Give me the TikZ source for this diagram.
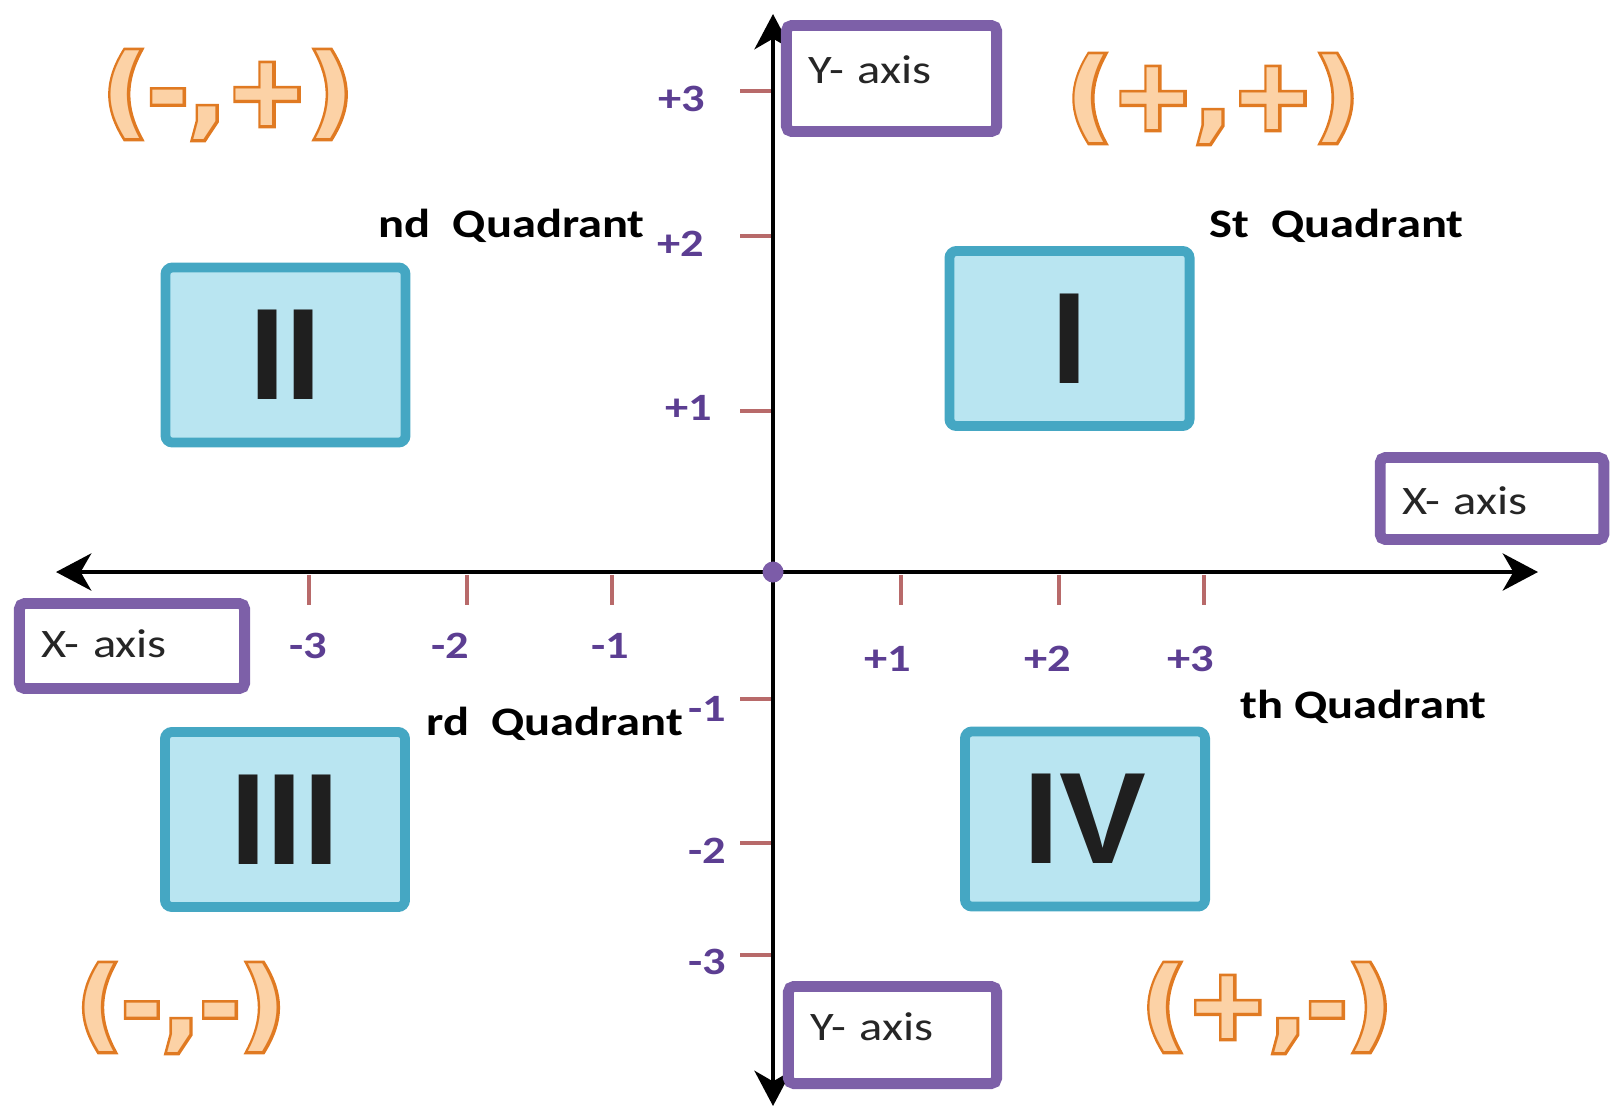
\documentclass[tikz,border=0pt]{standalone}
\usepackage{fontspec}
\setmainfont{Carlito}[FakeStretch=1.2]
\newfontfamily\romanfont{Liberation Sans}
\newfontfamily\signfont{DejaVu Sans Bold}
\newfontfamily\signedge{DejaVu Sans Bold}[FakeBold=6]
\usepackage{xcolor}
\usepackage{tikz}
\usetikzlibrary{arrows.meta,positioning}

\definecolor{axPurple}{HTML}{7D60A8}
\definecolor{numPurple}{HTML}{5C3E92}
\definecolor{dotPurple}{HTML}{7C5CA8}
\definecolor{tickRed}{HTML}{B86A6A}
\definecolor{quadTeal}{HTML}{45A7C3}
\definecolor{quadFill}{HTML}{B9E5F1}
\definecolor{signOrange}{HTML}{E07A22}
\definecolor{signPale}{HTML}{FCD2A6}

% orange outlined sign text
\newcommand{\hollow}[1]{\rlap{\signedge\color{signOrange}#1}{\signfont\color{signPale}#1}}

\begin{document}
\begin{tikzpicture}[
  x=0.01cm,y=-0.01cm,
  axbox/.style={draw=axPurple,line width=3.1pt,fill=white,rounded corners=1.5pt,inner xsep=0.22cm,inner ysep=0pt,align=left,text=black!85,font=\fontsize{11.5}{13}\selectfont},
  quad/.style={draw=quadTeal,line width=2.8pt,fill=quadFill,rounded corners=2pt,minimum width=2.40cm,minimum height=1.75cm,text=black!88,font=\romanfont\bfseries\fontsize{37}{40}\selectfont},
  qlabel/.style={anchor=west,inner sep=0pt,font=\bfseries\fontsize{11.5}{13}\selectfont},
  tlabel/.style={inner sep=0pt,text=numPurple,font=\bfseries\fontsize{11}{12}\selectfont},
  ticmark/.style={draw=tickRed,line width=1.4pt},
  sign/.style={inner sep=0pt,font=\fontsize{28}{30}\selectfont},
  axline/.style={line width=1.4pt,arrows={Stealth[length=10pt,width=10.5pt,inset=3pt]-Stealth[length=10pt,width=10.5pt,inset=3pt]}},
]
\useasboundingbox (0,0) rectangle (1612,1111);

% axes
\coordinate (xl) at (56,572);
\coordinate (xr) at (1538,572);
\coordinate (yt) at (773,14);
\coordinate (yb) at (773,1106);
\draw[axline] (xl) -- (xr);
\draw[axline] (yb) -- (yt);

% ticks
\draw[ticmark] (740,91) -- (771,91);
\draw[ticmark] (740,236) -- (771,236);
\draw[ticmark] (740,411) -- (771,411);
\draw[ticmark] (740,699) -- (771,699);
\draw[ticmark] (740,843) -- (771,843);
\draw[ticmark] (740,955) -- (771,955);
\draw[ticmark] (309,575) -- (309,605);
\draw[ticmark] (467,575) -- (467,605);
\draw[ticmark] (612,575) -- (612,605);
\draw[ticmark] (901,575) -- (901,605);
\draw[ticmark] (1059,575) -- (1059,605);
\draw[ticmark] (1204,575) -- (1204,605);

\node[circle,fill=dotPurple,inner sep=0pt,minimum size=0.21cm] (origin) at (773,572) {};

% tick labels
\node[tlabel] (yp3) at (682,99) {+3};
\node[tlabel] (yp2) at (681,244) {+2};
\node[tlabel] (yp1) at (689,408) {+1};
\node[tlabel] (ym1) at (707,709) {-1};
\node[tlabel] (ym2) at (707,851) {-2};
\node[tlabel] (ym3) at (707,962) {-3};
\node[tlabel] (xm3) at (308,646) {-3};
\node[tlabel] (xm2) at (450,646) {-2};
\node[tlabel] (xm1) at (610,646) {-1};
\node[tlabel] (xp1) at (888,659) {+1};
\node[tlabel] (xp2) at (1048,659) {+2};
\node[tlabel] (xp3) at (1191,659) {+3};

% axis name boxes
\node[axbox,text width=1.66cm,text height=0.575cm,text depth=0.485cm] (ytop) at (891.5,78.5) {Y- axis};
\node[axbox,text width=1.64cm,text height=0.535cm,text depth=0.435cm] (ybot) at (892.5,1035) {Y- axis};
\node[axbox,text width=1.795cm,text height=0.565cm,text depth=0.255cm] (xright) at (1492,498.5) {X- axis};
\node[axbox,text width=1.81cm,text height=0.535cm,text depth=0.315cm] (xleft) at (132,646) {X- axis};

% quadrants
\node[quad] (q1) at (1069.5,338.5) {I};
\node[quad] (q2) at (285.5,355) {II};
\node[quad] (q3) at (285,819.5) {III};
\node[quad] (q4) at (1085,819) {IV};

\node[qlabel] (q1lab) at (1209,226) {St\ \ Quadrant};
\node[qlabel] (q2lab) at (378,226) {nd\ \ Quadrant};
\node[qlabel] (q3lab) at (426,724) {rd\ \ Quadrant};
\node[qlabel] (q4lab) at (1240,707) {th Quadrant};

% signs
\node[sign] (s1) at (1213,99) {\hollow{(+,+)}};
\node[sign] (s2) at (228,95) {\hollow{(-,+)}};
\node[sign] (s3) at (181,1008) {\hollow{(-,-)}};
\node[sign] (s4) at (1267,1008) {\hollow{(+,-)}};
\end{tikzpicture}
\end{document}
